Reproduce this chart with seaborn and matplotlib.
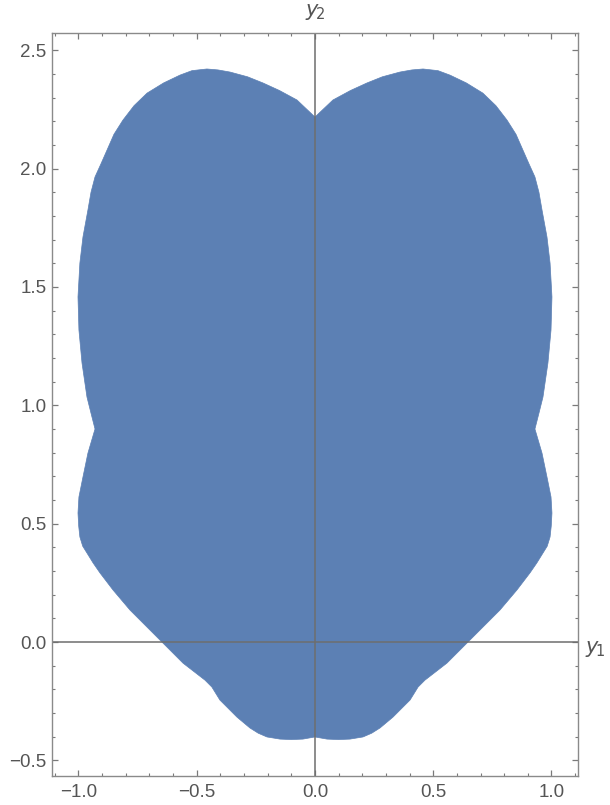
import numpy as np
import pandas as pd
import matplotlib
matplotlib.use("Agg")
import matplotlib.pyplot as plt
from matplotlib.ticker import MultipleLocator
import seaborn as sns

# right half of the region boundary, from top of the y2 axis round to the bottom
half_y1 = [0.0, 0.076, 0.150, 0.220, 0.285, 0.359, 0.410, 0.457, 0.520, 0.571,
           0.640, 0.710, 0.765, 0.812, 0.850, 0.879, 0.905, 0.930, 0.947, 0.960,
           0.981, 0.994, 1.002, 0.998, 0.985, 0.964, 0.947, 0.930, 0.960, 0.981,
           0.998, 1.002, 0.999, 0.994, 0.982, 0.964, 0.938, 0.909, 0.854, 0.782,
           0.710, 0.647, 0.558, 0.465, 0.436, 0.402, 0.330, 0.275, 0.240, 0.203,
           0.148, 0.100, 0.051, 0.0]
half_y2 = [2.218, 2.290, 2.330, 2.362, 2.388, 2.408, 2.417, 2.421, 2.414, 2.395,
           2.362, 2.319, 2.266, 2.205, 2.145, 2.079, 2.020, 1.965, 1.900, 1.825,
           1.711, 1.601, 1.458, 1.318, 1.179, 1.035, 0.967, 0.900, 0.798, 0.697,
           0.613, 0.545, 0.490, 0.444, 0.405, 0.376, 0.334, 0.292, 0.220, 0.135,
           0.063, 0.0, -0.089, -0.161, -0.190, -0.245, -0.317, -0.363, -0.385, -0.401,
           -0.410, -0.412, -0.410, -0.401]

xticks = [-1.0, -0.5, 0.0, 0.5, 1.0]
yticks = [-0.5, 0.0, 0.5, 1.0, 1.5, 2.0, 2.5]
xlim = (-1.112, 1.112)
ylim = (-0.566, 2.573)

# region is symmetric about the y2 axis: right half then mirrored left half
right = pd.DataFrame({"y1": half_y1, "y2": half_y2})
left = right.iloc[::-1].assign(y1=lambda d: -d["y1"])
region = pd.concat([right, left], ignore_index=True)

sns.set_style("ticks")
plt.rcParams["font.family"] = ["Liberation Sans", "DejaVu Sans"]

fig = plt.figure(figsize=(6.10, 8.05), dpi=100)
ax = fig.add_axes([0.0852, 0.036, 0.8623, 0.923])

ax.fill(region["y1"], region["y2"], color="#5c80b4", lw=0.5, ec="#5c80b4", zorder=1)

ax.axhline(0, color="#6e6e6e", lw=1.1, zorder=2)
ax.axvline(0, color="#6e6e6e", lw=1.1, zorder=2)

ax.set_xlim(*xlim)
ax.set_ylim(*ylim)
ax.set_xticks(xticks)
ax.set_yticks(yticks)
ax.set_xticklabels(["\u22121.0", "\u22120.5", "0.0", "0.5", "1.0"])
ax.set_yticklabels(["\u22120.5", "0.0", "0.5", "1.0", "1.5", "2.0", "2.5"])
ax.xaxis.set_minor_locator(MultipleLocator(0.1))
ax.yaxis.set_minor_locator(MultipleLocator(0.1))

for side in ax.spines.values():
    side.set_color("#8a8a8a")
    side.set_linewidth(1.0)

ax.tick_params(which="both", direction="in", top=True, right=True,
               color="#7a7a7a", labelcolor="#555555", labelsize=13.5)
ax.tick_params(which="major", length=4, width=0.9)
ax.tick_params(which="minor", length=2.2, width=0.8)
ax.tick_params(axis="x", pad=6)
ax.tick_params(axis="y", pad=4)

ax.text(0.0, 2.66, "$\\mathit{y}_{\\!2}$", color="#555555", fontsize=15, ha="center",
        va="center", clip_on=False)
ax.text(1.14, -0.03, "$\\mathit{y}_{\\!1}$", color="#555555", fontsize=15, ha="left",
        va="center", clip_on=False)

fig.savefig("out.png", dpi=100)
